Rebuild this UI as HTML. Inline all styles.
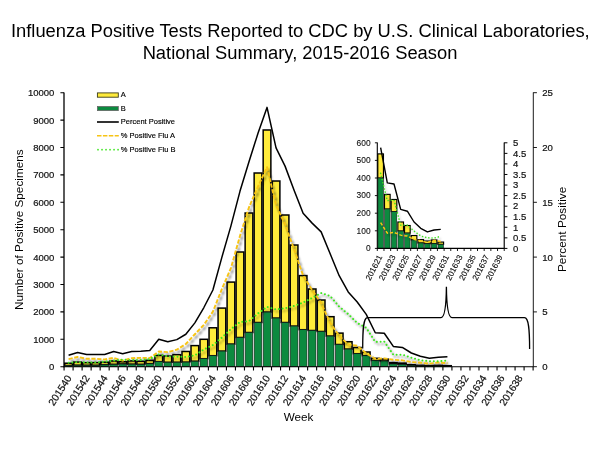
<!DOCTYPE html>
<html lang="en"><head><meta charset="utf-8"><title>Influenza Positive Tests Reported to CDC by U.S. Clinical Laboratories</title>
<style>html,body{margin:0;padding:0;background:#fff}svg{display:block}</style></head>
<body>
<svg width="600" height="450" viewBox="0 0 600 450" font-family="'Liberation Sans', Arial, sans-serif" fill="#111">
<defs><filter id="sh" x="-5%" y="-5%" width="110%" height="115%"><feGaussianBlur stdDeviation="0.8"/></filter></defs>
<rect width="600" height="450" fill="#fff"/>
<text x="300.3" y="37" font-size="18.35" text-anchor="middle" fill="#000">Influenza Positive Tests Reported to CDC by U.S. Clinical Laboratories,</text>
<text x="300" y="58.8" font-size="18.35" text-anchor="middle" fill="#000">National Summary, 2015-2016 Season</text>
<rect x="64.73" y="363.22" width="7.7" height="2.3" fill="#FFEB3B" stroke="#000" stroke-width="1.5"/>
<rect x="64.75" y="365.52" width="7.67" height="1.18" fill="#0C8A3F" stroke="#1c1c1c" stroke-width="0.6"/>
<rect x="73.75" y="362.04" width="7.7" height="3.18" fill="#FFEB3B" stroke="#000" stroke-width="1.5"/>
<rect x="73.77" y="365.22" width="7.67" height="1.48" fill="#0C8A3F" stroke="#1c1c1c" stroke-width="0.6"/>
<rect x="82.77" y="362.62" width="7.7" height="2.66" fill="#FFEB3B" stroke="#000" stroke-width="1.5"/>
<rect x="82.78" y="365.28" width="7.67" height="1.42" fill="#0C8A3F" stroke="#1c1c1c" stroke-width="0.6"/>
<rect x="91.79" y="362.59" width="7.7" height="2.69" fill="#FFEB3B" stroke="#000" stroke-width="1.5"/>
<rect x="91.8" y="365.28" width="7.67" height="1.42" fill="#0C8A3F" stroke="#1c1c1c" stroke-width="0.6"/>
<rect x="100.81" y="362.18" width="7.7" height="2.66" fill="#FFEB3B" stroke="#000" stroke-width="1.5"/>
<rect x="100.83" y="364.84" width="7.67" height="1.86" fill="#0C8A3F" stroke="#1c1c1c" stroke-width="0.6"/>
<rect x="109.83" y="361" width="7.7" height="3.34" fill="#FFEB3B" stroke="#000" stroke-width="1.5"/>
<rect x="109.84" y="364.34" width="7.67" height="2.36" fill="#0C8A3F" stroke="#1c1c1c" stroke-width="0.6"/>
<rect x="118.85" y="361.71" width="7.7" height="2.3" fill="#FFEB3B" stroke="#000" stroke-width="1.5"/>
<rect x="118.86" y="364.01" width="7.67" height="2.69" fill="#0C8A3F" stroke="#1c1c1c" stroke-width="0.6"/>
<rect x="127.87" y="360.92" width="7.7" height="3.26" fill="#FFEB3B" stroke="#000" stroke-width="1.5"/>
<rect x="127.88" y="364.18" width="7.67" height="2.52" fill="#0C8A3F" stroke="#1c1c1c" stroke-width="0.6"/>
<rect x="136.89" y="361.25" width="7.7" height="3.1" fill="#FFEB3B" stroke="#000" stroke-width="1.5"/>
<rect x="136.91" y="364.34" width="7.67" height="2.36" fill="#0C8A3F" stroke="#1c1c1c" stroke-width="0.6"/>
<rect x="145.91" y="360.32" width="7.7" height="3.4" fill="#FFEB3B" stroke="#000" stroke-width="1.5"/>
<rect x="145.92" y="363.71" width="7.67" height="2.99" fill="#0C8A3F" stroke="#1c1c1c" stroke-width="0.6"/>
<rect x="154.93" y="355.41" width="7.7" height="6.25" fill="#FFEB3B" stroke="#000" stroke-width="1.5"/>
<rect x="154.94" y="361.66" width="7.67" height="5.04" fill="#0C8A3F" stroke="#1c1c1c" stroke-width="0.6"/>
<rect x="163.95" y="356.01" width="7.7" height="6.25" fill="#FFEB3B" stroke="#000" stroke-width="1.5"/>
<rect x="163.96" y="362.26" width="7.67" height="4.44" fill="#0C8A3F" stroke="#1c1c1c" stroke-width="0.6"/>
<rect x="172.97" y="354.64" width="7.7" height="7.59" fill="#FFEB3B" stroke="#000" stroke-width="1.5"/>
<rect x="172.98" y="362.23" width="7.67" height="4.47" fill="#0C8A3F" stroke="#1c1c1c" stroke-width="0.6"/>
<rect x="181.99" y="351.47" width="7.7" height="10.66" fill="#FFEB3B" stroke="#000" stroke-width="1.5"/>
<rect x="182" y="362.12" width="7.67" height="4.58" fill="#0C8A3F" stroke="#1c1c1c" stroke-width="0.6"/>
<rect x="191.01" y="345.6" width="7.7" height="15.62" fill="#FFEB3B" stroke="#000" stroke-width="1.5"/>
<rect x="191.02" y="361.22" width="7.67" height="5.48" fill="#0C8A3F" stroke="#1c1c1c" stroke-width="0.6"/>
<rect x="200.03" y="339.3" width="7.7" height="19.4" fill="#FFEB3B" stroke="#000" stroke-width="1.5"/>
<rect x="200.04" y="358.7" width="7.67" height="8" fill="#0C8A3F" stroke="#1c1c1c" stroke-width="0.6"/>
<rect x="209.05" y="327.79" width="7.7" height="27.92" fill="#FFEB3B" stroke="#000" stroke-width="1.5"/>
<rect x="209.06" y="355.71" width="7.67" height="10.99" fill="#0C8A3F" stroke="#1c1c1c" stroke-width="0.6"/>
<rect x="218.07" y="308.09" width="7.7" height="43.02" fill="#FFEB3B" stroke="#000" stroke-width="1.5"/>
<rect x="218.08" y="351.11" width="7.67" height="15.59" fill="#0C8A3F" stroke="#1c1c1c" stroke-width="0.6"/>
<rect x="227.09" y="282.09" width="7.7" height="62.01" fill="#FFEB3B" stroke="#000" stroke-width="1.5"/>
<rect x="227.1" y="344.09" width="7.67" height="22.61" fill="#0C8A3F" stroke="#1c1c1c" stroke-width="0.6"/>
<rect x="236.11" y="252" width="7.7" height="85.49" fill="#FFEB3B" stroke="#000" stroke-width="1.5"/>
<rect x="236.12" y="337.49" width="7.67" height="29.21" fill="#0C8A3F" stroke="#1c1c1c" stroke-width="0.6"/>
<rect x="245.13" y="213.01" width="7.7" height="119.49" fill="#FFEB3B" stroke="#000" stroke-width="1.5"/>
<rect x="245.14" y="332.5" width="7.67" height="34.2" fill="#0C8A3F" stroke="#1c1c1c" stroke-width="0.6"/>
<rect x="254.15" y="173.01" width="7.7" height="149.49" fill="#FFEB3B" stroke="#000" stroke-width="1.5"/>
<rect x="254.16" y="322.5" width="7.67" height="44.2" fill="#0C8A3F" stroke="#1c1c1c" stroke-width="0.6"/>
<rect x="263.17" y="129.99" width="7.7" height="182.1" fill="#FFEB3B" stroke="#000" stroke-width="1.5"/>
<rect x="263.19" y="312.09" width="7.67" height="54.61" fill="#0C8A3F" stroke="#1c1c1c" stroke-width="0.6"/>
<rect x="272.19" y="181.01" width="7.7" height="137.08" fill="#FFEB3B" stroke="#000" stroke-width="1.5"/>
<rect x="272.2" y="318.09" width="7.67" height="48.61" fill="#0C8A3F" stroke="#1c1c1c" stroke-width="0.6"/>
<rect x="281.21" y="215.01" width="7.7" height="107.49" fill="#FFEB3B" stroke="#000" stroke-width="1.5"/>
<rect x="281.22" y="322.5" width="7.67" height="44.2" fill="#0C8A3F" stroke="#1c1c1c" stroke-width="0.6"/>
<rect x="290.23" y="245.02" width="7.7" height="81.08" fill="#FFEB3B" stroke="#000" stroke-width="1.5"/>
<rect x="290.25" y="326.09" width="7.67" height="40.61" fill="#0C8A3F" stroke="#1c1c1c" stroke-width="0.6"/>
<rect x="299.25" y="275.6" width="7.7" height="54.11" fill="#FFEB3B" stroke="#000" stroke-width="1.5"/>
<rect x="299.27" y="329.71" width="7.67" height="36.99" fill="#0C8A3F" stroke="#1c1c1c" stroke-width="0.6"/>
<rect x="308.27" y="288.99" width="7.7" height="41.51" fill="#FFEB3B" stroke="#000" stroke-width="1.5"/>
<rect x="308.29" y="330.5" width="7.67" height="36.2" fill="#0C8A3F" stroke="#1c1c1c" stroke-width="0.6"/>
<rect x="317.29" y="300.01" width="7.7" height="31.48" fill="#FFEB3B" stroke="#000" stroke-width="1.5"/>
<rect x="317.31" y="331.49" width="7.67" height="35.21" fill="#0C8A3F" stroke="#1c1c1c" stroke-width="0.6"/>
<rect x="326.31" y="316.69" width="7.7" height="19.4" fill="#FFEB3B" stroke="#000" stroke-width="1.5"/>
<rect x="326.32" y="336.09" width="7.67" height="30.61" fill="#0C8A3F" stroke="#1c1c1c" stroke-width="0.6"/>
<rect x="335.33" y="333.11" width="7.7" height="11.4" fill="#FFEB3B" stroke="#000" stroke-width="1.5"/>
<rect x="335.35" y="344.51" width="7.67" height="22.19" fill="#0C8A3F" stroke="#1c1c1c" stroke-width="0.6"/>
<rect x="344.35" y="341.71" width="7.7" height="7.4" fill="#FFEB3B" stroke="#000" stroke-width="1.5"/>
<rect x="344.37" y="349.11" width="7.67" height="17.59" fill="#0C8A3F" stroke="#1c1c1c" stroke-width="0.6"/>
<rect x="353.37" y="347.49" width="7.7" height="6.22" fill="#FFEB3B" stroke="#000" stroke-width="1.5"/>
<rect x="353.38" y="353.71" width="7.67" height="12.99" fill="#0C8A3F" stroke="#1c1c1c" stroke-width="0.6"/>
<rect x="362.39" y="351.99" width="7.7" height="3.75" fill="#FFEB3B" stroke="#000" stroke-width="1.5"/>
<rect x="362.4" y="355.74" width="7.67" height="10.96" fill="#0C8A3F" stroke="#1c1c1c" stroke-width="0.6"/>
<rect x="371.41" y="358.29" width="7.7" height="2.27" fill="#FFEB3B" stroke="#000" stroke-width="1.5"/>
<rect x="371.43" y="360.56" width="7.67" height="6.14" fill="#0C8A3F" stroke="#1c1c1c" stroke-width="0.6"/>
<rect x="380.43" y="359.08" width="7.7" height="1.89" fill="#FFEB3B" stroke="#000" stroke-width="1.5"/>
<rect x="380.44" y="360.97" width="7.67" height="5.73" fill="#0C8A3F" stroke="#1c1c1c" stroke-width="0.6"/>
<rect x="389.45" y="362.59" width="7.7" height="1.4" fill="#FFEB3B" stroke="#000" stroke-width="1.5"/>
<rect x="389.46" y="363.99" width="7.67" height="2.71" fill="#0C8A3F" stroke="#1c1c1c" stroke-width="0.6"/>
<rect x="398.47" y="363.14" width="7.7" height="1.18" fill="#FFEB3B" stroke="#000" stroke-width="1.5"/>
<rect x="398.49" y="364.32" width="7.67" height="2.38" fill="#0C8A3F" stroke="#1c1c1c" stroke-width="0.6"/>
<rect x="407.49" y="364.7" width="7.7" height="0.69" fill="#FFEB3B" stroke="#000" stroke-width="1.5"/>
<rect x="407.5" y="365.38" width="7.67" height="1.32" fill="#0C8A3F" stroke="#1c1c1c" stroke-width="0.6"/>
<rect x="416.51" y="365.33" width="7.7" height="0.52" fill="#FFEB3B" stroke="#000" stroke-width="1.5"/>
<rect x="416.52" y="365.85" width="7.67" height="0.85" fill="#0C8A3F" stroke="#1c1c1c" stroke-width="0.6"/>
<rect x="425.53" y="365.55" width="7.7" height="0.41" fill="#FFEB3B" stroke="#000" stroke-width="1.5"/>
<rect x="425.55" y="365.96" width="7.67" height="0.74" fill="#0C8A3F" stroke="#1c1c1c" stroke-width="0.6"/>
<rect x="434.55" y="365.38" width="7.7" height="0.58" fill="#FFEB3B" stroke="#000" stroke-width="1.5"/>
<rect x="434.56" y="365.96" width="7.67" height="0.74" fill="#0C8A3F" stroke="#1c1c1c" stroke-width="0.6"/>
<rect x="443.57" y="365.71" width="7.7" height="0.36" fill="#FFEB3B" stroke="#000" stroke-width="1.5"/>
<rect x="443.58" y="366.07" width="7.67" height="0.63" fill="#0C8A3F" stroke="#1c1c1c" stroke-width="0.6"/>
<g fill="none" stroke-linejoin="round">
<polyline points="68.58,359.09 77.6,356.98 86.62,358.78 95.64,358.75 104.66,359.48 113.68,357.83 122.7,360.68 131.72,358.11 140.74,357.86 149.76,358.07 158.78,351.54 167.8,352.16 176.82,349.66 185.84,344 194.86,334.25 203.88,324.8 212.9,311.65 221.92,288.88 230.94,268.06 239.96,236 248.98,207.35 258,186.52 267.02,167.21 276.04,205.12 285.06,224.57 294.08,249.13 303.1,275.56 312.12,290 321.14,303.06 330.16,322.91 339.18,335.83 348.2,344.57 357.22,345.76 366.24,353.36 375.26,358.81 384.28,358.4 393.3,359.81 402.32,360.32 411.34,362.01 420.36,362.74 429.38,363.65 438.4,362.53 447.42,363.14" stroke="#000" stroke-opacity=".5" stroke-width="1.9" stroke-dasharray="4.2 1.6" transform="translate(1.8,2.4)" filter="url(#sh)"/>
<polyline points="68.58,362.8 77.6,362.17 86.62,362.45 95.64,362.48 104.66,361.64 113.68,360.45 122.7,359.68 131.72,360.06 140.74,359.97 149.76,359.11 158.78,354.46 167.8,356.37 176.82,356.67 185.84,356.96 194.86,355.31 203.88,349.42 212.9,345.03 221.92,337.55 230.94,329.07 239.96,322.04 248.98,321.1 258,313.43 267.02,306.88 276.04,309.41 285.06,308.26 294.08,305.87 303.1,302.58 312.12,297.98 321.14,293.05 330.16,296.01 339.18,306.6 348.2,314.08 357.22,322.98 366.24,327.76 375.26,341.91 384.28,341.57 393.3,354.64 402.32,354.64 411.34,357.69 420.36,360.24 429.38,361.2 438.4,361.34 447.42,360.4" stroke="#000" stroke-opacity=".5" stroke-width="2" stroke-linecap="round" stroke-dasharray="0.01 3.8" transform="translate(1.8,2.4)" filter="url(#sh)"/>
<polyline points="68.58,359.09 77.6,356.98 86.62,358.78 95.64,358.75 104.66,359.48 113.68,357.83 122.7,360.68 131.72,358.11 140.74,357.86 149.76,358.07 158.78,351.54 167.8,352.16 176.82,349.66 185.84,344 194.86,334.25 203.88,324.8 212.9,311.65 221.92,288.88 230.94,268.06 239.96,236 248.98,207.35 258,186.52 267.02,167.21 276.04,205.12 285.06,224.57 294.08,249.13 303.1,275.56 312.12,290 321.14,303.06 330.16,322.91 339.18,335.83 348.2,344.57 357.22,345.76 366.24,353.36 375.26,358.81 384.28,358.4 393.3,359.81 402.32,360.32 411.34,362.01 420.36,362.74 429.38,363.65 438.4,362.53 447.42,363.14" stroke="#F7C414" stroke-width="1.9" stroke-dasharray="4.2 1.6"/>
<polyline points="68.58,362.8 77.6,362.17 86.62,362.45 95.64,362.48 104.66,361.64 113.68,360.45 122.7,359.68 131.72,360.06 140.74,359.97 149.76,359.11 158.78,354.46 167.8,356.37 176.82,356.67 185.84,356.96 194.86,355.31 203.88,349.42 212.9,345.03 221.92,337.55 230.94,329.07 239.96,322.04 248.98,321.1 258,313.43 267.02,306.88 276.04,309.41 285.06,308.26 294.08,305.87 303.1,302.58 312.12,297.98 321.14,293.05 330.16,296.01 339.18,306.6 348.2,314.08 357.22,322.98 366.24,327.76 375.26,341.91 384.28,341.57 393.3,354.64 402.32,354.64 411.34,357.69 420.36,360.24 429.38,361.2 438.4,361.34 447.42,360.4" stroke="#3CE61E" stroke-width="2" stroke-linecap="round" stroke-dasharray="0.01 3.8"/>
<polyline points="68.58,355.19 77.6,352.45 86.62,354.53 95.64,354.53 104.66,354.42 113.68,351.58 122.7,353.66 131.72,351.47 140.74,351.14 149.76,350.48 158.78,339.3 167.8,341.82 176.82,339.63 185.84,334.26 194.86,322.86 203.88,307.52 212.9,289.98 221.92,257.1 230.94,225.86 239.96,191.34 248.98,161.75 258,133.25 267.02,107.39 276.04,147.83 285.06,166.13 294.08,190.24 303.1,213.26 312.12,223.12 321.14,231.89 330.16,253.81 339.18,275.73 348.2,291.95 357.22,302.04 366.24,314.42 375.26,332.72 384.28,333.27 393.3,346.42 402.32,347.41 411.34,353 420.36,356.29 429.38,358.15 438.4,357.16 447.42,356.84" stroke="#000" stroke-width="1.5"/>
</g>
<g stroke="#000" fill="none">
<path d="M64 92.4 V367.3" stroke-width="1.3"/>
<path d="M63.4 366.7 H533.11" stroke-width="1.1"/>
<path d="M60.4 366.7 H64 M60.4 339.3 H64 M60.4 311.9 H64 M60.4 284.5 H64 M60.4 257.1 H64 M60.4 229.7 H64 M60.4 202.3 H64 M60.4 174.9 H64 M60.4 147.5 H64 M60.4 120.1 H64 M60.4 92.7 H64 " stroke-width="1.1"/>
<path d="M64.07 366.7 V370.6 M73.09 366.7 V370.6 M82.11 366.7 V370.6 M91.13 366.7 V370.6 M100.15 366.7 V370.6 M109.17 366.7 V370.6 M118.19 366.7 V370.6 M127.21 366.7 V370.6 M136.23 366.7 V370.6 M145.25 366.7 V370.6 M154.27 366.7 V370.6 M163.29 366.7 V370.6 M172.31 366.7 V370.6 M181.33 366.7 V370.6 M190.35 366.7 V370.6 M199.37 366.7 V370.6 M208.39 366.7 V370.6 M217.41 366.7 V370.6 M226.43 366.7 V370.6 M235.45 366.7 V370.6 M244.47 366.7 V370.6 M253.49 366.7 V370.6 M262.51 366.7 V370.6 M271.53 366.7 V370.6 M280.55 366.7 V370.6 M289.57 366.7 V370.6 M298.59 366.7 V370.6 M307.61 366.7 V370.6 M316.63 366.7 V370.6 M325.65 366.7 V370.6 M334.67 366.7 V370.6 M343.69 366.7 V370.6 M352.71 366.7 V370.6 M361.73 366.7 V370.6 M370.75 366.7 V370.6 M379.77 366.7 V370.6 M388.79 366.7 V370.6 M397.81 366.7 V370.6 M406.83 366.7 V370.6 M415.85 366.7 V370.6 M424.87 366.7 V370.6 M433.89 366.7 V370.6 M442.91 366.7 V370.6 M451.93 366.7 V370.6 M460.95 366.7 V370.6 M469.97 366.7 V370.6 M478.99 366.7 V370.6 M488.01 366.7 V370.6 M497.03 366.7 V370.6 M506.05 366.7 V370.6 M515.07 366.7 V370.6 M524.09 366.7 V370.6 M533.11 366.7 V370.6 " stroke-width="1.1"/>
<path d="M533.31 92.4 V367.2" stroke-width="0.9"/>
<path d="M533.31 366.7 H536.91 M533.31 311.9 H536.91 M533.31 257.1 H536.91 M533.31 202.3 H536.91 M533.31 147.5 H536.91 M533.31 92.7 H536.91 " stroke-width="0.9"/>
</g>
<text x="54.3" y="370.1" font-size="9.5" stroke="#111" stroke-width="0.2" text-anchor="end">0</text>
<text x="54.3" y="342.7" font-size="9.5" stroke="#111" stroke-width="0.2" text-anchor="end">1000</text>
<text x="54.3" y="315.3" font-size="9.5" stroke="#111" stroke-width="0.2" text-anchor="end">2000</text>
<text x="54.3" y="287.9" font-size="9.5" stroke="#111" stroke-width="0.2" text-anchor="end">3000</text>
<text x="54.3" y="260.5" font-size="9.5" stroke="#111" stroke-width="0.2" text-anchor="end">4000</text>
<text x="54.3" y="233.1" font-size="9.5" stroke="#111" stroke-width="0.2" text-anchor="end">5000</text>
<text x="54.3" y="205.7" font-size="9.5" stroke="#111" stroke-width="0.2" text-anchor="end">6000</text>
<text x="54.3" y="178.3" font-size="9.5" stroke="#111" stroke-width="0.2" text-anchor="end">7000</text>
<text x="54.3" y="150.9" font-size="9.5" stroke="#111" stroke-width="0.2" text-anchor="end">8000</text>
<text x="54.3" y="123.5" font-size="9.5" stroke="#111" stroke-width="0.2" text-anchor="end">9000</text>
<text x="54.3" y="96.1" font-size="9.5" stroke="#111" stroke-width="0.2" text-anchor="end">10000</text>
<text x="542.2" y="370.1" font-size="9.6" stroke="#111" stroke-width="0.2">0</text>
<text x="542.2" y="315.3" font-size="9.6" stroke="#111" stroke-width="0.2">5</text>
<text x="542.2" y="260.5" font-size="9.6" stroke="#111" stroke-width="0.2">10</text>
<text x="542.2" y="205.7" font-size="9.6" stroke="#111" stroke-width="0.2">15</text>
<text x="542.2" y="150.9" font-size="9.6" stroke="#111" stroke-width="0.2">20</text>
<text x="542.2" y="96.1" font-size="9.6" stroke="#111" stroke-width="0.2">25</text>
<text transform="translate(72.08,377.9) rotate(-57.5)" font-size="10.2" stroke="#111" stroke-width="0.2" text-anchor="end">201540</text>
<text transform="translate(90.12,377.9) rotate(-57.5)" font-size="10.2" stroke="#111" stroke-width="0.2" text-anchor="end">201542</text>
<text transform="translate(108.16,377.9) rotate(-57.5)" font-size="10.2" stroke="#111" stroke-width="0.2" text-anchor="end">201544</text>
<text transform="translate(126.2,377.9) rotate(-57.5)" font-size="10.2" stroke="#111" stroke-width="0.2" text-anchor="end">201546</text>
<text transform="translate(144.24,377.9) rotate(-57.5)" font-size="10.2" stroke="#111" stroke-width="0.2" text-anchor="end">201548</text>
<text transform="translate(162.28,377.9) rotate(-57.5)" font-size="10.2" stroke="#111" stroke-width="0.2" text-anchor="end">201550</text>
<text transform="translate(180.32,377.9) rotate(-57.5)" font-size="10.2" stroke="#111" stroke-width="0.2" text-anchor="end">201552</text>
<text transform="translate(198.36,377.9) rotate(-57.5)" font-size="10.2" stroke="#111" stroke-width="0.2" text-anchor="end">201602</text>
<text transform="translate(216.4,377.9) rotate(-57.5)" font-size="10.2" stroke="#111" stroke-width="0.2" text-anchor="end">201604</text>
<text transform="translate(234.44,377.9) rotate(-57.5)" font-size="10.2" stroke="#111" stroke-width="0.2" text-anchor="end">201606</text>
<text transform="translate(252.48,377.9) rotate(-57.5)" font-size="10.2" stroke="#111" stroke-width="0.2" text-anchor="end">201608</text>
<text transform="translate(270.52,377.9) rotate(-57.5)" font-size="10.2" stroke="#111" stroke-width="0.2" text-anchor="end">201610</text>
<text transform="translate(288.56,377.9) rotate(-57.5)" font-size="10.2" stroke="#111" stroke-width="0.2" text-anchor="end">201612</text>
<text transform="translate(306.6,377.9) rotate(-57.5)" font-size="10.2" stroke="#111" stroke-width="0.2" text-anchor="end">201614</text>
<text transform="translate(324.64,377.9) rotate(-57.5)" font-size="10.2" stroke="#111" stroke-width="0.2" text-anchor="end">201616</text>
<text transform="translate(342.68,377.9) rotate(-57.5)" font-size="10.2" stroke="#111" stroke-width="0.2" text-anchor="end">201618</text>
<text transform="translate(360.72,377.9) rotate(-57.5)" font-size="10.2" stroke="#111" stroke-width="0.2" text-anchor="end">201620</text>
<text transform="translate(378.76,377.9) rotate(-57.5)" font-size="10.2" stroke="#111" stroke-width="0.2" text-anchor="end">201622</text>
<text transform="translate(396.8,377.9) rotate(-57.5)" font-size="10.2" stroke="#111" stroke-width="0.2" text-anchor="end">201624</text>
<text transform="translate(414.84,377.9) rotate(-57.5)" font-size="10.2" stroke="#111" stroke-width="0.2" text-anchor="end">201626</text>
<text transform="translate(432.88,377.9) rotate(-57.5)" font-size="10.2" stroke="#111" stroke-width="0.2" text-anchor="end">201628</text>
<text transform="translate(450.92,377.9) rotate(-57.5)" font-size="10.2" stroke="#111" stroke-width="0.2" text-anchor="end">201630</text>
<text transform="translate(468.96,377.9) rotate(-57.5)" font-size="10.2" stroke="#111" stroke-width="0.2" text-anchor="end">201632</text>
<text transform="translate(487,377.9) rotate(-57.5)" font-size="10.2" stroke="#111" stroke-width="0.2" text-anchor="end">201634</text>
<text transform="translate(505.04,377.9) rotate(-57.5)" font-size="10.2" stroke="#111" stroke-width="0.2" text-anchor="end">201636</text>
<text transform="translate(523.08,377.9) rotate(-57.5)" font-size="10.2" stroke="#111" stroke-width="0.2" text-anchor="end">201638</text>
<text transform="translate(23,229.7) rotate(-90)" font-size="11.75" text-anchor="middle" fill="#000">Number of Positive Specimens</text>
<text transform="translate(566.2,229.4) rotate(-90)" font-size="11.8" text-anchor="middle" fill="#000">Percent Positive</text>
<text x="298.6" y="420.8" font-size="11.7" text-anchor="middle" fill="#000">Week</text>
<rect x="97.4" y="92.9" width="20.9" height="4.3" fill="#FFEB3B" stroke="#3a3a1a" stroke-width="0.9"/>
<rect x="97.4" y="106.5" width="20.9" height="4.1" fill="#0C8A3F" stroke="#666" stroke-width="0.8"/>
<path d="M97 122 H118.8" stroke="#000" stroke-width="1.6"/>
<path d="M97 135.8 H118.8" stroke="#F7C414" stroke-width="1.5" stroke-dasharray="4.5 1.4"/>
<path d="M98 149.7 H118.8" stroke="#3CE61E" stroke-width="1.7" stroke-linecap="round" stroke-dasharray="0.01 4"/>
<text x="120.8" y="97.3" font-size="7.5" fill="#000" stroke="#000" stroke-width="0.15">A</text>
<text x="120.8" y="110.9" font-size="7.5" fill="#000" stroke="#000" stroke-width="0.15">B</text>
<text x="120.8" y="124.3" font-size="7.5" fill="#000" stroke="#000" stroke-width="0.15">Percent Positive</text>
<text x="120.8" y="138.1" font-size="7.5" fill="#000" stroke="#000" stroke-width="0.15">% Positive Flu A</text>
<text x="120.8" y="152" font-size="7.5" fill="#000" stroke="#000" stroke-width="0.15">% Positive Flu B</text>
<rect x="377.81" y="153.89" width="5.65" height="24.11" fill="#FFEB3B" stroke="#000" stroke-width="1.15"/>
<rect x="377.9" y="178" width="5.48" height="70.4" fill="#0C8A3F" stroke="#1c1c1c" stroke-width="0.6"/>
<rect x="384.5" y="194.37" width="5.65" height="14.61" fill="#FFEB3B" stroke="#000" stroke-width="1.15"/>
<rect x="384.58" y="208.98" width="5.48" height="39.42" fill="#0C8A3F" stroke="#1c1c1c" stroke-width="0.6"/>
<rect x="391.18" y="199.47" width="5.65" height="12.14" fill="#FFEB3B" stroke="#000" stroke-width="1.15"/>
<rect x="391.26" y="211.62" width="5.48" height="36.78" fill="#0C8A3F" stroke="#1c1c1c" stroke-width="0.6"/>
<rect x="397.86" y="222" width="5.65" height="8.98" fill="#FFEB3B" stroke="#000" stroke-width="1.15"/>
<rect x="397.94" y="230.98" width="5.48" height="17.42" fill="#0C8A3F" stroke="#1c1c1c" stroke-width="0.6"/>
<rect x="404.54" y="225.52" width="5.65" height="7.57" fill="#FFEB3B" stroke="#000" stroke-width="1.15"/>
<rect x="404.62" y="233.09" width="5.48" height="15.31" fill="#0C8A3F" stroke="#1c1c1c" stroke-width="0.6"/>
<rect x="411.22" y="235.55" width="5.65" height="4.4" fill="#FFEB3B" stroke="#000" stroke-width="1.15"/>
<rect x="411.3" y="239.95" width="5.48" height="8.45" fill="#0C8A3F" stroke="#1c1c1c" stroke-width="0.6"/>
<rect x="417.9" y="239.6" width="5.65" height="3.34" fill="#FFEB3B" stroke="#000" stroke-width="1.15"/>
<rect x="417.98" y="242.94" width="5.48" height="5.46" fill="#0C8A3F" stroke="#1c1c1c" stroke-width="0.6"/>
<rect x="424.57" y="241.01" width="5.65" height="2.64" fill="#FFEB3B" stroke="#000" stroke-width="1.15"/>
<rect x="424.66" y="243.65" width="5.48" height="4.75" fill="#0C8A3F" stroke="#1c1c1c" stroke-width="0.6"/>
<rect x="431.26" y="239.95" width="5.65" height="3.7" fill="#FFEB3B" stroke="#000" stroke-width="1.15"/>
<rect x="431.34" y="243.65" width="5.48" height="4.75" fill="#0C8A3F" stroke="#1c1c1c" stroke-width="0.6"/>
<rect x="437.94" y="242.06" width="5.65" height="2.29" fill="#FFEB3B" stroke="#000" stroke-width="1.15"/>
<rect x="438.02" y="244.35" width="5.48" height="4.05" fill="#0C8A3F" stroke="#1c1c1c" stroke-width="0.6"/>
<g fill="none" stroke-linejoin="round">
<polyline points="380.64,222.7 387.32,233.19 394,232.41 400.68,235.12 407.36,236.1 414.04,239.36 420.72,240.78 427.4,242.52 434.08,240.36 440.76,241.54" stroke="#000" stroke-opacity=".35" stroke-width="1.4" stroke-dasharray="3.2 2" transform="translate(1.5,2)" filter="url(#sh)"/>
<polyline points="380.64,173.36 387.32,200.63 394,199.97 400.68,225.17 407.36,225.17 414.04,231.04 420.72,235.96 427.4,237.81 434.08,238.06 440.76,236.26" stroke="#000" stroke-opacity=".35" stroke-width="1.5" stroke-linecap="round" stroke-dasharray="0.01 3.2" transform="translate(1.5,2)" filter="url(#sh)"/>
<polyline points="380.64,222.7 387.32,233.19 394,232.41 400.68,235.12 407.36,236.1 414.04,239.36 420.72,240.78 427.4,242.52 434.08,240.36 440.76,241.54" stroke="#F7C414" stroke-width="1.5" stroke-dasharray="3.2 1.8"/>
<polyline points="380.64,173.36 387.32,200.63 394,199.97 400.68,225.17 407.36,225.17 414.04,231.04 420.72,235.96 427.4,237.81 434.08,238.06 440.76,236.26" stroke="#3CE61E" stroke-width="1.6" stroke-linecap="round" stroke-dasharray="0.01 3.2"/>
<polyline points="380.64,147.66 387.32,182.93 394,183.98 400.68,209.33 407.36,211.23 414.04,222 420.72,228.34 427.4,231.93 434.08,230.03 440.76,229.39" stroke="#000" stroke-width="1.4"/>
</g>
<g stroke="#000" fill="none">
<path d="M377.3 142.5 V248.9" stroke-width="1.1"/>
<path d="M376.9 248.4 H504.22" stroke-width="1.1"/>
<path d="M374.9 248.4 H377.3 M374.9 230.8 H377.3 M374.9 213.2 H377.3 M374.9 195.6 H377.3 M374.9 178 H377.3 M374.9 160.4 H377.3 M374.9 142.8 H377.3 M377.3 248.4 V251 M383.98 248.4 V251 M390.66 248.4 V251 M397.34 248.4 V251 M404.02 248.4 V251 M410.7 248.4 V251 M417.38 248.4 V251 M424.06 248.4 V251 M430.74 248.4 V251 M437.42 248.4 V251 M444.1 248.4 V251 M450.78 248.4 V251 M457.46 248.4 V251 M464.14 248.4 V251 M470.82 248.4 V251 M477.5 248.4 V251 M484.18 248.4 V251 M490.86 248.4 V251 M497.54 248.4 V251 M504.22 248.4 V251 " stroke-width="0.9"/>
<path d="M504.22 142.5 V248.8" stroke-width="1.15"/>
<path d="M504.22 248.4 H507.42 M504.22 237.84 H507.42 M504.22 227.28 H507.42 M504.22 216.72 H507.42 M504.22 206.16 H507.42 M504.22 195.6 H507.42 M504.22 185.04 H507.42 M504.22 174.48 H507.42 M504.22 163.92 H507.42 M504.22 153.36 H507.42 M504.22 142.8 H507.42 " stroke-width="1"/>
</g>
<text x="370.6" y="251.2" font-size="8.4" stroke="#111" stroke-width="0.1" text-anchor="end">0</text>
<text x="370.6" y="233.6" font-size="8.4" stroke="#111" stroke-width="0.1" text-anchor="end">100</text>
<text x="370.6" y="216" font-size="8.4" stroke="#111" stroke-width="0.1" text-anchor="end">200</text>
<text x="370.6" y="198.4" font-size="8.4" stroke="#111" stroke-width="0.1" text-anchor="end">300</text>
<text x="370.6" y="180.8" font-size="8.4" stroke="#111" stroke-width="0.1" text-anchor="end">400</text>
<text x="370.6" y="163.2" font-size="8.4" stroke="#111" stroke-width="0.1" text-anchor="end">500</text>
<text x="370.6" y="145.6" font-size="8.4" stroke="#111" stroke-width="0.1" text-anchor="end">600</text>
<text x="513" y="251.7" font-size="9.5" stroke="#111" stroke-width="0.2">0</text>
<text x="513" y="241.14" font-size="9.5" stroke="#111" stroke-width="0.2">0.5</text>
<text x="513" y="230.58" font-size="9.5" stroke="#111" stroke-width="0.2">1</text>
<text x="513" y="220.02" font-size="9.5" stroke="#111" stroke-width="0.2">1.5</text>
<text x="513" y="209.46" font-size="9.5" stroke="#111" stroke-width="0.2">2</text>
<text x="513" y="198.9" font-size="9.5" stroke="#111" stroke-width="0.2">2.5</text>
<text x="513" y="188.34" font-size="9.5" stroke="#111" stroke-width="0.2">3</text>
<text x="513" y="177.78" font-size="9.5" stroke="#111" stroke-width="0.2">3.5</text>
<text x="513" y="167.22" font-size="9.5" stroke="#111" stroke-width="0.2">4</text>
<text x="513" y="156.66" font-size="9.5" stroke="#111" stroke-width="0.2">4.5</text>
<text x="513" y="146.1" font-size="9.5" stroke="#111" stroke-width="0.2">5</text>
<text transform="translate(382.54,256.8) rotate(-63)" font-size="8.15" stroke="#111" stroke-width="0.15" text-anchor="end">201621</text>
<text transform="translate(395.9,256.8) rotate(-63)" font-size="8.15" stroke="#111" stroke-width="0.15" text-anchor="end">201623</text>
<text transform="translate(409.26,256.8) rotate(-63)" font-size="8.15" stroke="#111" stroke-width="0.15" text-anchor="end">201625</text>
<text transform="translate(422.62,256.8) rotate(-63)" font-size="8.15" stroke="#111" stroke-width="0.15" text-anchor="end">201627</text>
<text transform="translate(435.98,256.8) rotate(-63)" font-size="8.15" stroke="#111" stroke-width="0.15" text-anchor="end">201629</text>
<text transform="translate(449.34,256.8) rotate(-63)" font-size="8.15" stroke="#111" stroke-width="0.15" text-anchor="end">201631</text>
<text transform="translate(462.7,256.8) rotate(-63)" font-size="8.15" stroke="#111" stroke-width="0.15" text-anchor="end">201633</text>
<text transform="translate(476.06,256.8) rotate(-63)" font-size="8.15" stroke="#111" stroke-width="0.15" text-anchor="end">201635</text>
<text transform="translate(489.42,256.8) rotate(-63)" font-size="8.15" stroke="#111" stroke-width="0.15" text-anchor="end">201637</text>
<text transform="translate(502.78,256.8) rotate(-63)" font-size="8.15" stroke="#111" stroke-width="0.15" text-anchor="end">201639</text>
<path d="M362.7 348.5 C362.7 330 363.2 317.7 367.5 317.7 H441 C445 317.7 446.2 305 446.4 286.8 C446.6 305 447.8 317.7 452 317.7 H524.5 C528.8 317.7 529.6 330 529.6 349" fill="none" stroke="#000" stroke-width="1.3"/>
</svg>
</body></html>
